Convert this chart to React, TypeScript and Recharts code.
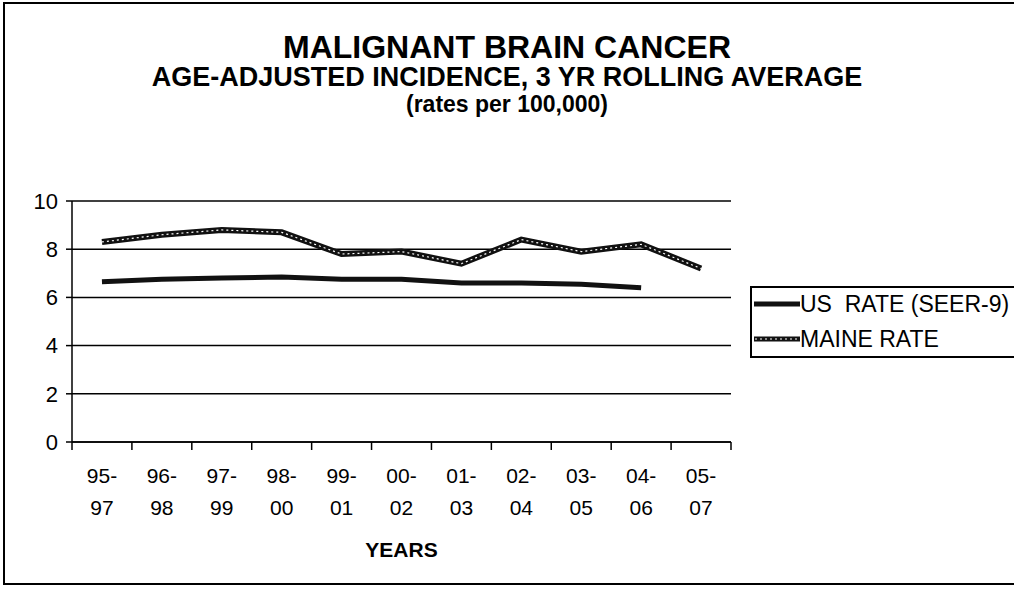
import React from 'react';
import {
  CartesianGrid,
  Label,
  Legend,
  Line,
  LineChart,
  XAxis,
  YAxis,
} from 'recharts';

// three-year windows
const periods = ['95-97', '96-98', '97-99', '98-00', '99-01', '00-02', '01-03', '02-04', '03-05', '04-06', '05-07'];
const usRate: (number | null)[] = [6.65, 6.75, 6.8, 6.85, 6.75, 6.75, 6.6, 6.6, 6.55, 6.4, null];
const maineRate = [8.3, 8.6, 8.8, 8.7, 7.8, 7.9, 7.4, 8.4, 7.9, 8.2, 7.2];
const yTicks = [0, 2, 4, 6, 8, 10];
const seriesNames = ['US  RATE (SEER-9)', 'MAINE RATE'];

const rows = periods.map((p, i) => ({ period: p, us: usRate[i], maine: maineRate[i] }));

const FONT = '"Liberation Sans", Arial, Helvetica, sans-serif';

// label in the band centre, tick marks on the band edges (Excel style)
function PeriodTick({ x, y, payload, index }: any) {
  const [a, b] = String(payload.value).split('-');
  const half = payload.offset || 0;
  const last = index === periods.length - 1;
  return (
    <g>
      <line x1={x - half} y1={y} x2={x - half} y2={y + 8} stroke="#000" strokeWidth={1.5} />
      {last && <line x1={x + half} y1={y} x2={x + half} y2={y + 8} stroke="#000" strokeWidth={1.5} />}
      <text x={x} y={y} textAnchor="middle" fontSize={21} fill="#000" fontFamily={FONT}>
        <tspan x={x} dy={41}>{a}-</tspan>
        <tspan x={x} dy={32}>{b}</tspan>
      </text>
    </g>
  );
}

function Sample({ double }: { double?: boolean }) {
  return (
    <svg width={48} height={10} style={{ display: 'block' }}>
      <line x1={2} y1={5} x2={48} y2={5} stroke="#111" strokeWidth={5} />
      {double && <line x1={3} y1={5} x2={47} y2={5} stroke="#fff" strokeWidth={1.2} strokeDasharray="2 3" />}
    </svg>
  );
}

function LegendBox() {
  return (
    <div
      style={{
        width: 290,
        height: 72,
        border: '2px solid #000',
        background: '#fff',
        fontFamily: FONT,
        fontSize: 23,
        color: '#000',
        paddingTop: 0,
        boxSizing: 'border-box',
      }}
    >
      {seriesNames.map((n, i) => (
        <div key={n} style={{ display: 'flex', alignItems: 'center', height: i === 0 ? 32 : 38, whiteSpace: 'pre' }}>
          <Sample double={i === 1} />
          <span>{n}</span>
        </div>
      ))}
    </div>
  );
}

export default function App() {
  return (
    <div
      style={{
        position: 'fixed',
        left: 0,
        top: 0,
        width: 1014,
        height: 589,
        background: '#fff',
        overflow: 'hidden',
        fontFamily: FONT,
      }}
    >
      <div
        style={{
          position: 'absolute',
          left: 3,
          top: 2,
          width: 1100,
          height: 583,
          border: '2px solid #000',
          boxSizing: 'border-box',
        }}
      />
      <div style={{ position: 'absolute', left: 0, width: 1014, textAlign: 'center', top: 29, fontSize: 32, fontWeight: 'bold', lineHeight: '36px' }}>
        MALIGNANT BRAIN CANCER
      </div>
      <div style={{ position: 'absolute', left: 0, width: 1014, textAlign: 'center', top: 62, fontSize: 27, fontWeight: 'bold', lineHeight: '30px' }}>
        AGE-ADJUSTED INCIDENCE, 3 YR ROLLING AVERAGE
      </div>
      <div style={{ position: 'absolute', left: 0, width: 1014, textAlign: 'center', top: 91, fontSize: 23, fontWeight: 'bold', lineHeight: '26px' }}>
        (rates per 100,000)
      </div>
      <div style={{ position: 'absolute', left: 0, top: 0 }}>
        <LineChart width={1014} height={589} data={rows} margin={{ top: 201, right: 283, left: 12, bottom: 0 }}>
          <CartesianGrid vertical={false} stroke="#000" strokeWidth={1.5} />
          <XAxis
            dataKey="period"
            scale="band"
            axisLine={{ stroke: '#000', strokeWidth: 1.5 }}
            tickLine={false}
            tickSize={0}
            tickMargin={0}
            tick={<PeriodTick />}
            interval={0}
            height={147}
          >
            <Label value="YEARS" position="insideBottom" offset={32} fill="#000" fontSize={21} fontWeight="bold" fontFamily={FONT} />
          </XAxis>
          <YAxis
            domain={[0, 10]}
            ticks={yTicks}
            width={60}
            tickSize={6}
            tickMargin={8}
            axisLine={{ stroke: '#000', strokeWidth: 1.5 }}
            tickLine={{ stroke: '#000', strokeWidth: 1.5 }}
            tick={{ fill: '#000', fontSize: 22, fontFamily: FONT }}
          />
          <YAxis
            yAxisId="frame"
            orientation="right"
            domain={[0, 10]}
            width={0}
            tick={false}
            tickLine={false}
            axisLine={{ stroke: '#000', strokeWidth: 1.5 }}
          />
          <Legend
            layout="horizontal"
            verticalAlign="middle"
            align="center"
            content={<LegendBox />}
            wrapperStyle={{ left: 750, top: 286, width: 290 }}
          />
          <Line
            dataKey="us"
            name={seriesNames[0]}
            stroke="#111"
            strokeWidth={5}
            dot={false}
            isAnimationActive={false}
          />
          <Line
            dataKey="maine"
            name={seriesNames[1]}
            stroke="#111"
            strokeWidth={6}
            dot={false}
            isAnimationActive={false}
          />
          <Line
            dataKey="maine"
            legendType="none"
            stroke="#fff"
            strokeWidth={1.2}
            strokeDasharray="2 3"
            dot={false}
            isAnimationActive={false}
          />
        </LineChart>
      </div>
    </div>
  );
}
